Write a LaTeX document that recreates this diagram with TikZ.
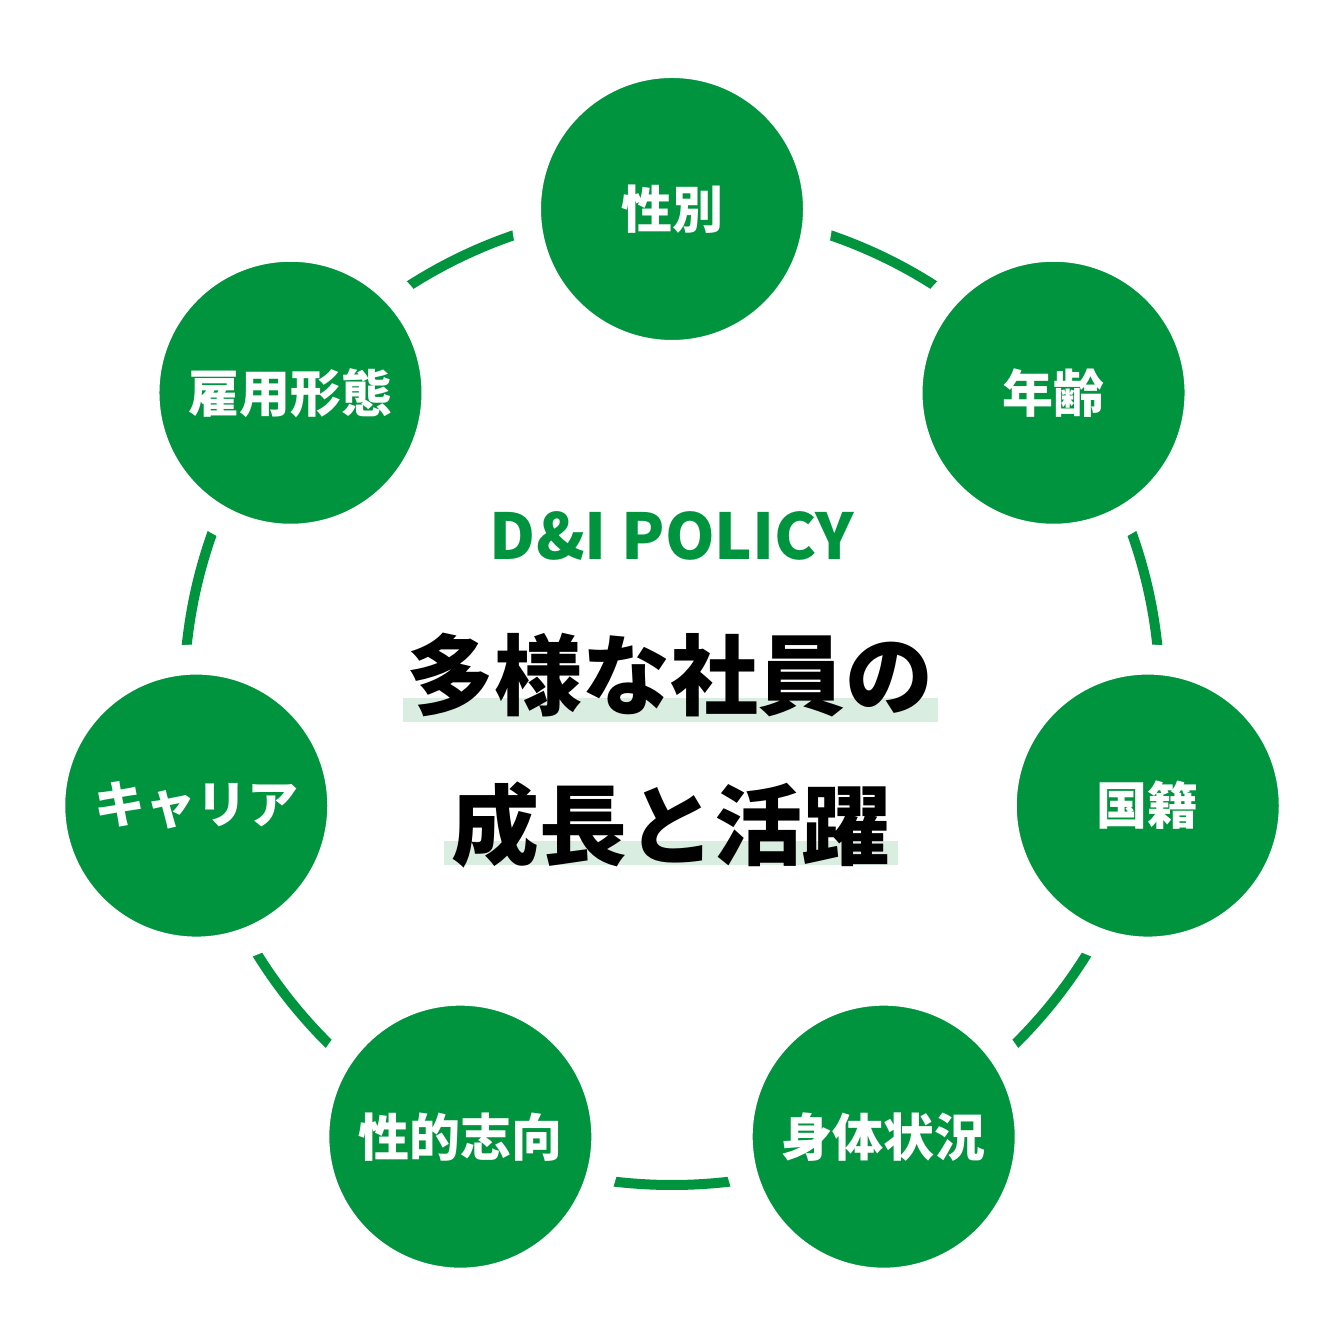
\documentclass[tikz,border=0pt]{standalone}
\usepackage{fontspec}
\newfontfamily\jp{Noto Sans CJK JP}
\usetikzlibrary{positioning,calc}
\definecolor{dgreen}{HTML}{00943F}
\definecolor{lgreen}{HTML}{D9EDE1}

\begin{document}
\begin{tikzpicture}[item/.style={circle,fill=dgreen,draw=white,line width=3mm,
                        minimum size=2.92cm,text=white,font=\jp\bfseries\fontsize{14.5}{16}\selectfont},
                        ring/.style={draw=dgreen,line width=1mm}]
      \useasboundingbox (0,0) rectangle (13.4,13.4);
      \coordinate (mid) at (6.72,6.43);
      \draw[ring] (mid) circle (4.88);

      \node[item] (gender) at ($(mid)+(90:4.88)$) {性別};
      \node[item] (age) at ($(mid)+(38.57:4.88)$) {年齢};
      \node[item] (nation) at ($(mid)+(-12.86:4.88)$) {国籍};
      \node[item] (body) at ($(mid)+(-64.29:4.88)$) {身体状況};
      \node[item] (orient) at ($(mid)+(-115.71:4.88)$) {性的志向};
      \node[item] (career) at ($(mid)+(-167.14:4.88)$) {キャリア};
      \node[item] (employ) at ($(mid)+(141.43:4.88)$) {雇用形態};

      \node[text=dgreen,font=\jp\bfseries\fontsize{18}{20}\selectfont] (policy) at (6.72,8.04) {D\&I POLICY};

      \fill[lgreen] (4.03,6.18) rectangle (9.38,6.42);
      \fill[lgreen] (4.44,4.75) rectangle (8.98,4.99);
      \node[font=\jp\bfseries\fontsize{25}{28}\selectfont] (line1) at (6.70,6.65) {多様な社員の};
      \node[font=\jp\bfseries\fontsize{25}{28}\selectfont] (line2) at (6.71,5.15) {成長と活躍};
    \end{tikzpicture}
\end{document}
